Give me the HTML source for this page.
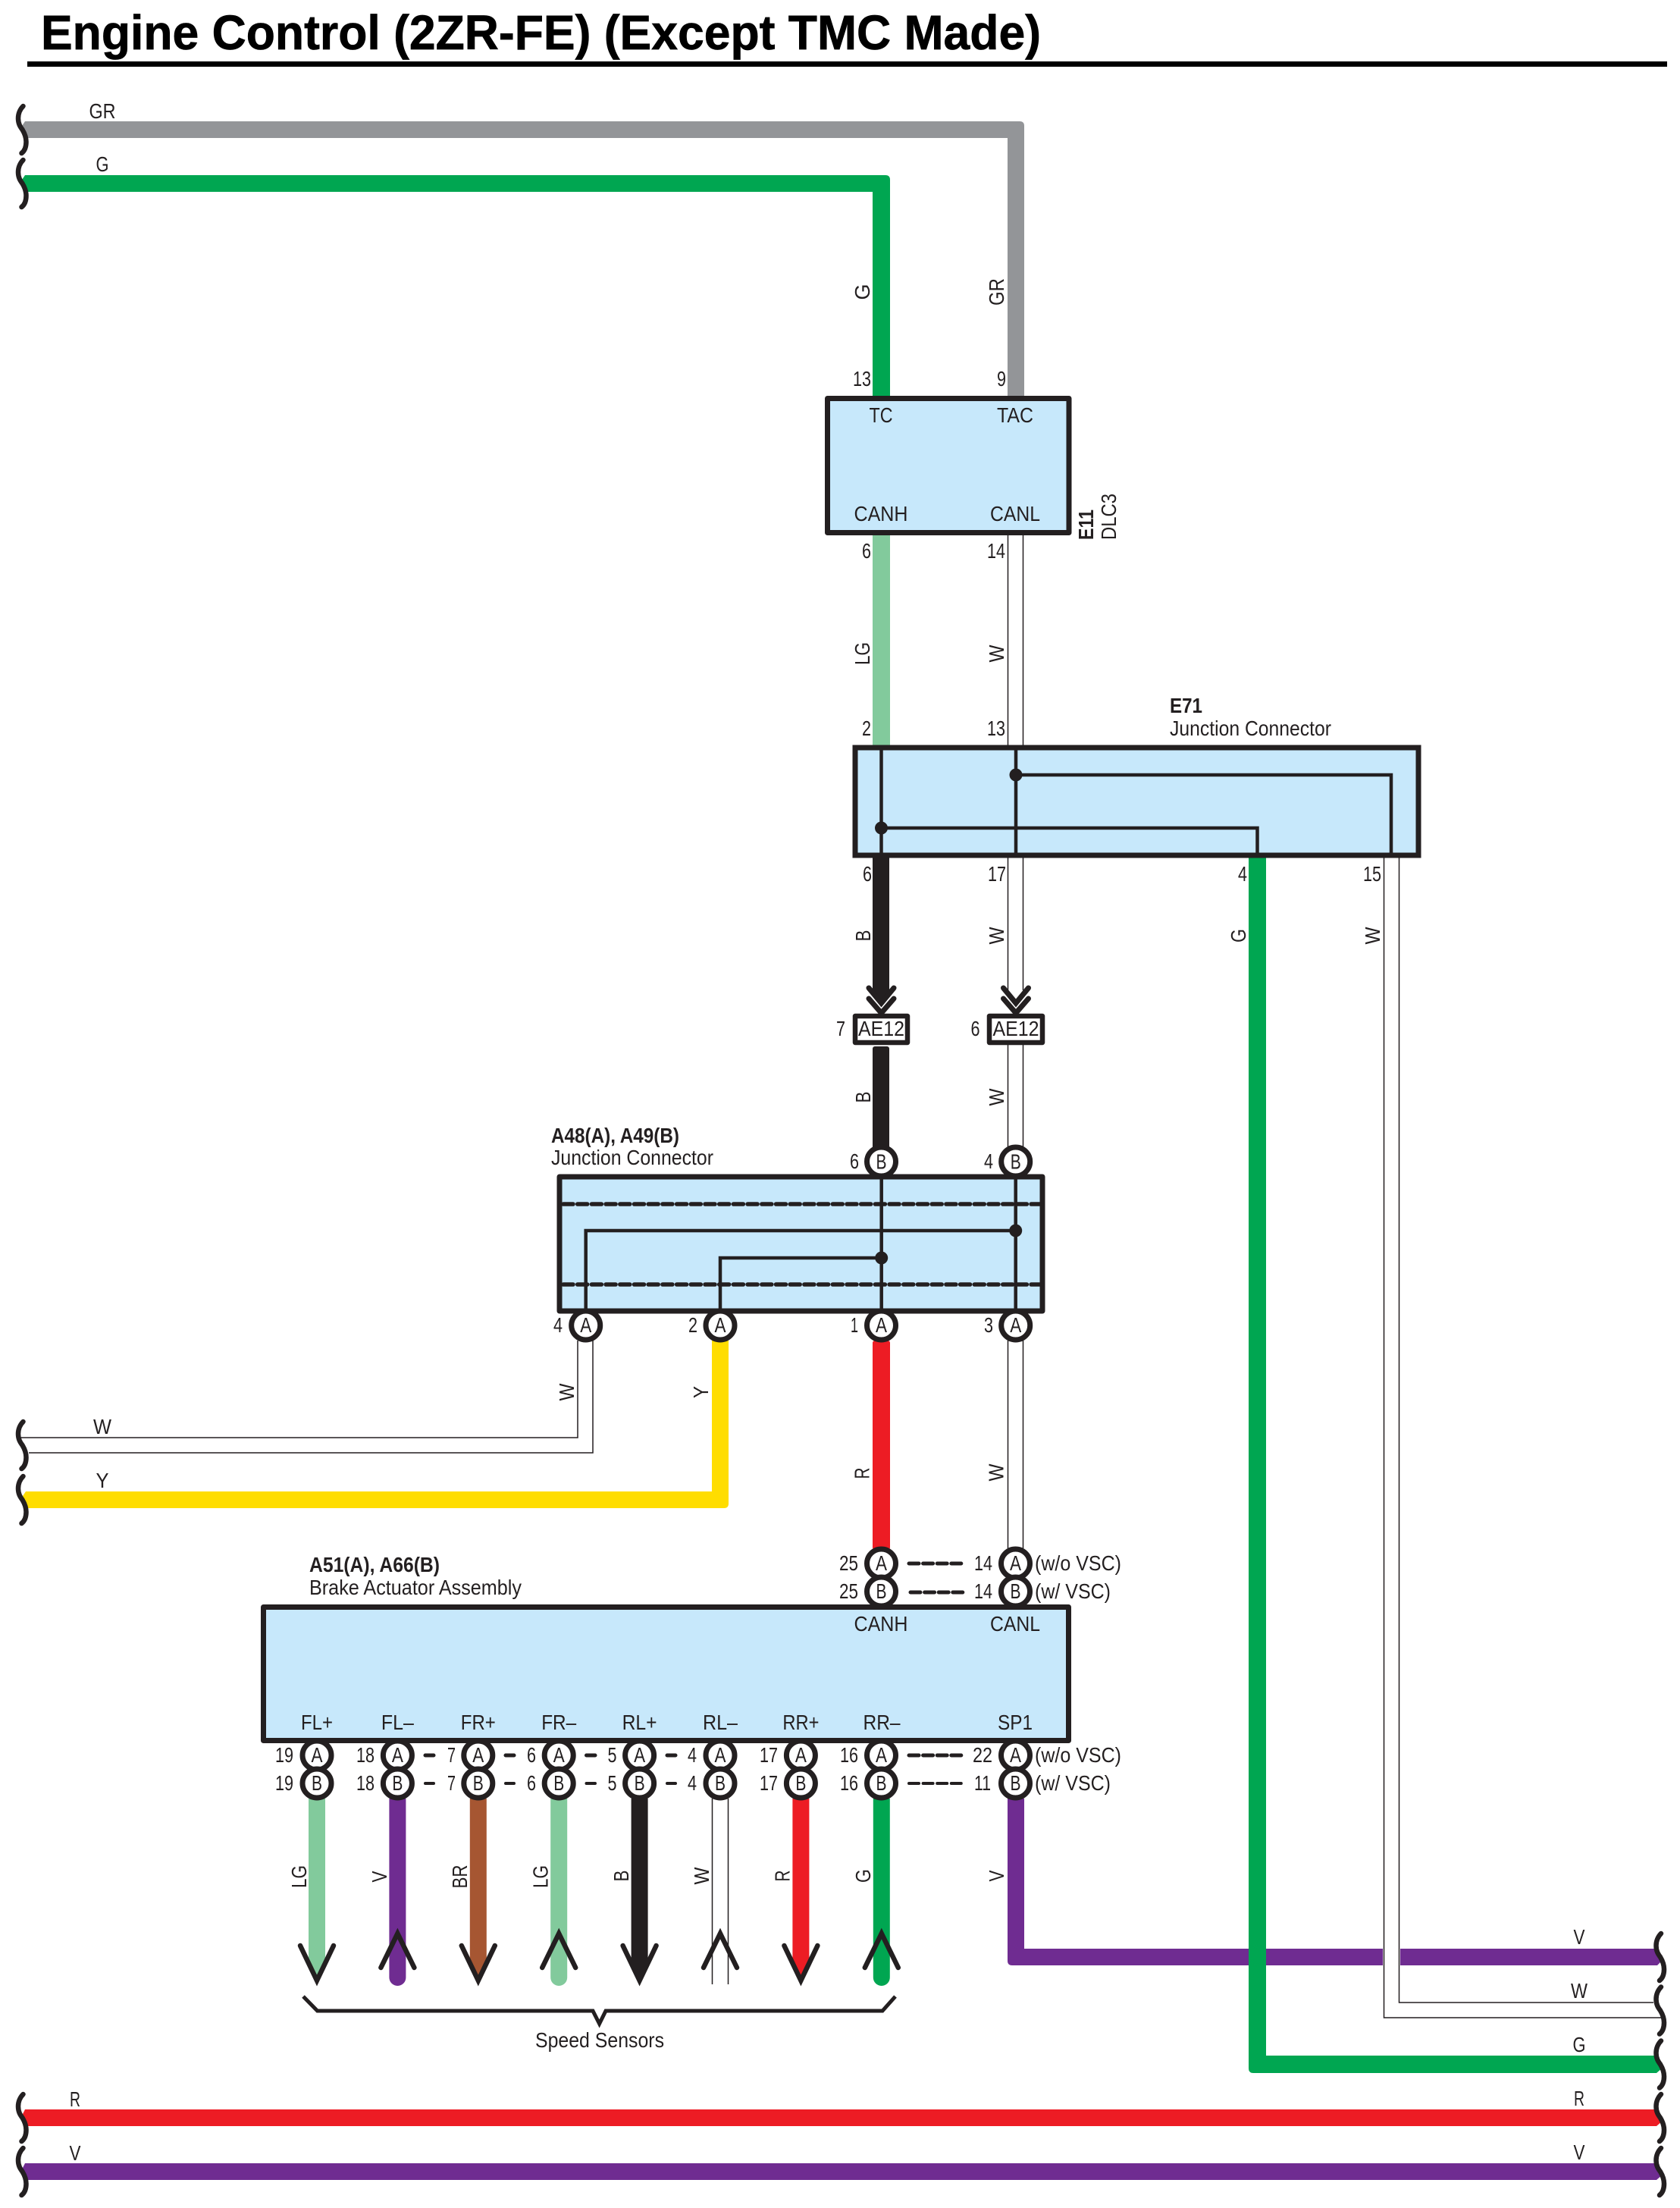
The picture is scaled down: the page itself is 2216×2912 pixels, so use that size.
<!DOCTYPE html>
<html>
<head>
<meta charset="utf-8">
<title>Engine Control (2ZR-FE) (Except TMC Made)</title>
<style>
html,body{margin:0;padding:0;background:#fff;}
svg{display:block;}
text{font-family:"Liberation Sans",Arial,sans-serif;font-size:28px;fill:#231f20;}
.m{text-anchor:middle;}
.e{text-anchor:end;}
.b{font-weight:bold;}
.th{fill:none;stroke:#231f20;stroke-width:1.5;}
.in{fill:none;stroke:#231f20;stroke-width:4.5;}
.box{fill:#c7e8fb;stroke:#231f20;stroke-width:7;stroke-linejoin:round;}
.ae{fill:#fff;stroke:#231f20;stroke-width:6.5;stroke-linejoin:round;}
.pin{fill:#fff;stroke:#231f20;stroke-width:7;}
.wave{fill:none;stroke:#231f20;stroke-width:6.5;stroke-linecap:round;}
.arw{fill:none;stroke:#231f20;stroke-width:6.5;stroke-linecap:round;stroke-linejoin:miter;stroke-miterlimit:10;}
.chev{fill:none;stroke:#231f20;stroke-width:7;stroke-linecap:round;stroke-linejoin:miter;}
.dash{stroke:#231f20;stroke-width:5;stroke-linecap:round;fill:none;}
.dot{fill:#231f20;}
</style>
</head>
<body>
<svg xmlns="http://www.w3.org/2000/svg" width="2216" height="2912" viewBox="0 0 2216 2912">
<defs>
<path id="w" class="wave" d="M1 -31 C-3 -27,-5.5 -21,-5.5 -15 C-5.5 -8,-3 -4,0 0 C3 5,5 10,5 16 C5 23,3 28,-1 31"/>
</defs>
<rect width="2216" height="2912" fill="#fff"/>

<!-- Title -->
<text x="54" y="65" class="b" style="font-size:64px;fill:#000;stroke:#000;stroke-width:.7" textLength="1319" lengthAdjust="spacingAndGlyphs">Engine Control (2ZR-FE) (Except TMC Made)</text>
<rect x="36" y="81" width="2163" height="7" fill="#000"/>

<!-- Top wires -->
<path fill="#939598" d="M33 160 H1345 Q1351 160 1351 166 V522 H1329 V182 H34 L29 166 Z"/>
<path fill="#00a651" d="M33 231 H1168 Q1174 231 1174 237 V522 H1151 V253 H34 L29 237 Z"/>
<!-- E11 to E71 -->
<rect x="1151" y="706" width="23" height="277" fill="#82ca9c"/>
<path class="th" d="M1329.5 706 V983 M1349.5 706 V983"/>
<!-- E71 below -->
<path fill="#231f20" d="M1151 1131 H1173 V1312 L1162 1326 L1151 1312 Z"/>
<path class="th" d="M1329.5 1131 V1306 M1349.5 1131 V1306"/>
<!-- AE12 to A48 -->
<rect x="1151" y="1380" width="22" height="136" fill="#231f20" rx="3"/>
<path class="th" d="M1329.5 1378 V1514 M1349.5 1378 V1514"/>
<!-- A48 below -->
<path class="th" d="M762 1768 V1896 H27 M782 1768 V1916 H38"/>
<path fill="#ffdd00" d="M939 1768 V1967 H34 L30 1973 L35 1989 H955 Q961 1989 961 1983 V1768 Z"/>
<rect x="1151" y="1768" width="23" height="276" fill="#ed1c24" rx="3"/>
<path class="th" d="M1329.5 1768 V2042 M1349.5 1768 V2042"/>
<!-- SP1 V wire -->
<path fill="#6f2c91" d="M1329 2372 V2586 Q1329 2592 1335 2592 H2186 L2192 2586 L2186 2570 H1351 V2372 Z"/>
<rect x="1824" y="2564" width="23" height="34" fill="#fff"/>
<path class="th" d="M1825.5 1131 V2661 H2191 M1845.5 1131 V2641 H2181"/>
<!-- E71 G wire -->
<path fill="#00a651" d="M1647 1131 V2728 Q1647 2734 1653 2734 H2185 L2192 2728 L2186 2711 H1670 V1131 Z"/>
<!-- Bottom power wires -->
<path fill="#ed1c24" d="M33 2782 H2186 L2192 2798 L2185 2804 H35 L30 2788 Z"/>
<path fill="#6f2c91" d="M33 2853 H2186 L2192 2869 L2185 2875 H35 L30 2859 Z"/>

<!-- Sensor wires -->
<path fill="#82ca9c" d="M407 2372 H429 V2592 L418 2616 L407 2592 Z"/>
<path fill="#6f2c91" d="M513.4 2372 H535.4 V2608 A11 11 0 0 1 513.4 2608 Z"/>
<path fill="#a65632" d="M619.8 2372 H641.8 V2592 L630.8 2616 L619.8 2592 Z"/>
<path fill="#82ca9c" d="M726.2 2372 H748.2 V2608 A11 11 0 0 1 726.2 2608 Z"/>
<path fill="#231f20" d="M832.6 2372 H854.6 V2592 L843.6 2616 L832.6 2592 Z"/>
<path class="th" d="M939.5 2372 V2617 M960.5 2372 V2617"/>
<path fill="#ed1c24" d="M1045.4 2372 H1067.4 V2592 L1056.4 2616 L1045.4 2592 Z"/>
<path fill="#00a651" d="M1151.8 2372 H1173.8 V2608 A11 11 0 0 1 1151.8 2608 Z"/>

<!-- Sensor arrowheads -->
<path class="arw" d="M396 2566 L418 2612 L440 2566"/>
<path class="arw" d="M502.4 2595 L524.4 2550 L546.4 2595"/>
<path class="arw" d="M608.8 2566 L630.8 2612 L652.8 2566"/>
<path class="arw" d="M715.2 2595 L737.2 2550 L759.2 2595"/>
<path class="arw" d="M821.6 2566 L843.6 2612 L865.6 2566"/>
<path class="arw" d="M928 2595 L950 2550 L972 2595"/>
<path class="arw" d="M1034.4 2566 L1056.4 2612 L1078.4 2566"/>
<path class="arw" d="M1140.8 2595 L1162.8 2550 L1184.8 2595"/>

<!-- Speed sensor bracket -->
<path fill="none" stroke="#231f20" stroke-width="5" d="M400 2633 L418.6 2652 H782 L790.6 2669 L799 2652 H1164 L1181 2633"/>
<text x="791" y="2700" class="m" textLength="170" lengthAdjust="spacingAndGlyphs">Speed Sensors</text>

<!-- Waves -->
<use href="#w" x="29.5" y="171"/>
<use href="#w" x="29.5" y="242"/>
<use href="#w" x="29.5" y="1906"/>
<use href="#w" x="29.5" y="1978"/>
<use href="#w" x="29.5" y="2793"/>
<use href="#w" x="29.5" y="2864"/>
<use href="#w" x="2190" y="2581"/>
<use href="#w" x="2190" y="2651.5"/>
<use href="#w" x="2190" y="2722.5"/>
<use href="#w" x="2190" y="2793"/>
<use href="#w" x="2190" y="2864"/>

<!-- Chevrons + AE12 -->
<path class="chev" d="M1146 1303 L1162.5 1323 L1179 1303 M1146 1317 L1162.5 1336 L1179 1317"/>
<path class="chev" d="M1323.5 1303 L1340 1323 L1356.5 1303 M1323.5 1317 L1340 1336 L1356.5 1317"/>
<rect class="ae" x="1128" y="1340" width="69" height="35"/>
<rect class="ae" x="1305" y="1340" width="70" height="35"/>
<text x="1162.5" y="1366" class="m" textLength="61" lengthAdjust="spacingAndGlyphs">AE12</text>
<text x="1340" y="1366" class="m" textLength="61" lengthAdjust="spacingAndGlyphs">AE12</text>
<text x="1109" y="1366" class="m" textLength="12" lengthAdjust="spacingAndGlyphs">7</text>
<text x="1286.5" y="1366" class="m" textLength="12" lengthAdjust="spacingAndGlyphs">6</text>

<!-- Pin circles (behind boxes) -->
<circle class="pin" cx="1162.5" cy="1532" r="19"/>
<circle class="pin" cx="1339.7" cy="1532" r="19"/>
<circle class="pin" cx="772.7" cy="1748" r="19"/>
<circle class="pin" cx="950" cy="1748" r="19"/>
<circle class="pin" cx="1162.5" cy="1748" r="19"/>
<circle class="pin" cx="1339.7" cy="1748" r="19"/>
<circle class="pin" cx="1162.5" cy="2062" r="19"/>
<circle class="pin" cx="1339.5" cy="2062" r="19"/>
<circle class="pin" cx="1162.5" cy="2099" r="19"/>
<circle class="pin" cx="1339.5" cy="2099" r="19"/>
<g>
<circle class="pin" cx="418" cy="2315" r="19"/><circle class="pin" cx="418" cy="2352" r="19"/>
<circle class="pin" cx="524.4" cy="2315" r="19"/><circle class="pin" cx="524.4" cy="2352" r="19"/>
<circle class="pin" cx="630.8" cy="2315" r="19"/><circle class="pin" cx="630.8" cy="2352" r="19"/>
<circle class="pin" cx="737.2" cy="2315" r="19"/><circle class="pin" cx="737.2" cy="2352" r="19"/>
<circle class="pin" cx="843.6" cy="2315" r="19"/><circle class="pin" cx="843.6" cy="2352" r="19"/>
<circle class="pin" cx="950" cy="2315" r="19"/><circle class="pin" cx="950" cy="2352" r="19"/>
<circle class="pin" cx="1056.4" cy="2315" r="19"/><circle class="pin" cx="1056.4" cy="2352" r="19"/>
<circle class="pin" cx="1162.5" cy="2315" r="19"/><circle class="pin" cx="1162.5" cy="2352" r="19"/>
<circle class="pin" cx="1339.5" cy="2315" r="19"/><circle class="pin" cx="1339.5" cy="2352" r="19"/>
</g>

<!-- E11 box -->
<rect class="box" x="1091.5" y="525.5" width="318.5" height="177"/>
<text x="1162" y="557" class="m" textLength="31" lengthAdjust="spacingAndGlyphs">TC</text>
<text x="1339" y="557" class="m" textLength="48" lengthAdjust="spacingAndGlyphs">TAC</text>
<text x="1162" y="687" class="m" textLength="71" lengthAdjust="spacingAndGlyphs">CANH</text>
<text x="1339" y="687" class="m" textLength="66" lengthAdjust="spacingAndGlyphs">CANL</text>

<!-- E71 box -->
<rect class="box" x="1128" y="986" width="743" height="142" style="stroke-linejoin:miter"/>
<path class="in" d="M1162.5 986 V1128 M1340 986 V1128 M1340 1022 H1835 V1128 M1162.5 1092 H1658.5 V1128"/>
<circle class="dot" cx="1340" cy="1022" r="8.5"/>
<circle class="dot" cx="1162.5" cy="1092" r="8.5"/>

<!-- A48/A49 box -->
<rect class="box" x="738" y="1552" width="637" height="177"/>
<path fill="none" stroke="#231f20" stroke-width="5.5" stroke-linecap="round" stroke-dasharray="13 5.7" d="M743 1588 H1372 M743 1694 H1372"/>
<path class="in" d="M1162.7 1552 V1729 M1339.7 1552 V1729 M772.7 1729 V1623 H1339.7 M950 1729 V1659 H1162.7"/>
<circle class="dot" cx="1339.7" cy="1623" r="8.5"/>
<circle class="dot" cx="1162.7" cy="1659" r="8.5"/>

<!-- A51/A66 box -->
<rect class="box" x="347.5" y="2119.5" width="1062" height="176"/>
<text x="1162" y="2151" class="m" textLength="71" lengthAdjust="spacingAndGlyphs">CANH</text>
<text x="1339" y="2151" class="m" textLength="66" lengthAdjust="spacingAndGlyphs">CANL</text>
<text x="418" y="2281" class="m" textLength="42" lengthAdjust="spacingAndGlyphs">FL+</text>
<text x="524.4" y="2281" class="m" textLength="43" lengthAdjust="spacingAndGlyphs">FL–</text>
<text x="630.8" y="2281" class="m" textLength="46" lengthAdjust="spacingAndGlyphs">FR+</text>
<text x="737.2" y="2281" class="m" textLength="46" lengthAdjust="spacingAndGlyphs">FR–</text>
<text x="843.6" y="2281" class="m" textLength="46" lengthAdjust="spacingAndGlyphs">RL+</text>
<text x="950" y="2281" class="m" textLength="46" lengthAdjust="spacingAndGlyphs">RL–</text>
<text x="1056.4" y="2281" class="m" textLength="48" lengthAdjust="spacingAndGlyphs">RR+</text>
<text x="1163" y="2281" class="m" textLength="49" lengthAdjust="spacingAndGlyphs">RR–</text>
<text x="1339" y="2281" class="m" textLength="46" lengthAdjust="spacingAndGlyphs">SP1</text>

<!-- Circle letters -->
<g class="cl">
<text x="1162.5" y="1541.5" class="m" textLength="14" lengthAdjust="spacingAndGlyphs">B</text>
<text x="1339.7" y="1541.5" class="m" textLength="14" lengthAdjust="spacingAndGlyphs">B</text>
<text x="772.7" y="1757" class="m" textLength="15" lengthAdjust="spacingAndGlyphs">A</text>
<text x="950" y="1757" class="m" textLength="15" lengthAdjust="spacingAndGlyphs">A</text>
<text x="1162.5" y="1757" class="m" textLength="15" lengthAdjust="spacingAndGlyphs">A</text>
<text x="1339.7" y="1757" class="m" textLength="15" lengthAdjust="spacingAndGlyphs">A</text>
<text x="1162.5" y="2071" class="m" textLength="15" lengthAdjust="spacingAndGlyphs">A</text>
<text x="1339.5" y="2071" class="m" textLength="15" lengthAdjust="spacingAndGlyphs">A</text>
<text x="1162.5" y="2108" class="m" textLength="14" lengthAdjust="spacingAndGlyphs">B</text>
<text x="1339.5" y="2108" class="m" textLength="14" lengthAdjust="spacingAndGlyphs">B</text>
<text x="418" y="2324" class="m" textLength="15" lengthAdjust="spacingAndGlyphs">A</text><text x="418" y="2361" class="m" textLength="14" lengthAdjust="spacingAndGlyphs">B</text>
<text x="524.4" y="2324" class="m" textLength="15" lengthAdjust="spacingAndGlyphs">A</text><text x="524.4" y="2361" class="m" textLength="14" lengthAdjust="spacingAndGlyphs">B</text>
<text x="630.8" y="2324" class="m" textLength="15" lengthAdjust="spacingAndGlyphs">A</text><text x="630.8" y="2361" class="m" textLength="14" lengthAdjust="spacingAndGlyphs">B</text>
<text x="737.2" y="2324" class="m" textLength="15" lengthAdjust="spacingAndGlyphs">A</text><text x="737.2" y="2361" class="m" textLength="14" lengthAdjust="spacingAndGlyphs">B</text>
<text x="843.6" y="2324" class="m" textLength="15" lengthAdjust="spacingAndGlyphs">A</text><text x="843.6" y="2361" class="m" textLength="14" lengthAdjust="spacingAndGlyphs">B</text>
<text x="950" y="2324" class="m" textLength="15" lengthAdjust="spacingAndGlyphs">A</text><text x="950" y="2361" class="m" textLength="14" lengthAdjust="spacingAndGlyphs">B</text>
<text x="1056.4" y="2324" class="m" textLength="15" lengthAdjust="spacingAndGlyphs">A</text><text x="1056.4" y="2361" class="m" textLength="14" lengthAdjust="spacingAndGlyphs">B</text>
<text x="1162.5" y="2324" class="m" textLength="15" lengthAdjust="spacingAndGlyphs">A</text><text x="1162.5" y="2361" class="m" textLength="14" lengthAdjust="spacingAndGlyphs">B</text>
<text x="1339.5" y="2324" class="m" textLength="15" lengthAdjust="spacingAndGlyphs">A</text><text x="1339.5" y="2361" class="m" textLength="14" lengthAdjust="spacingAndGlyphs">B</text>
</g>

<!-- Dashes -->
<path class="dash" stroke-dasharray="13 5.6" d="M1199 2062 H1268 M1201 2100 H1270 M1199 2315 H1268"/>
<path class="dash" style="stroke-width:4" stroke-dasharray="13 5.6" d="M1199 2352 H1268"/>
<path class="dash" d="M561 2315 H572 M667 2315 H678 M773.5 2315 H785 M880 2315 H891"/>
<path class="dash" style="stroke-width:4" d="M561 2352 H572 M667 2352 H678 M773.5 2352 H785 M880 2352 H891"/>

<!-- Pin numbers -->
<text x="1149" y="509" class="e" textLength="24" lengthAdjust="spacingAndGlyphs">13</text>
<text x="1327" y="509" class="e" textLength="12" lengthAdjust="spacingAndGlyphs">9</text>
<text x="1149" y="736" class="e" textLength="12" lengthAdjust="spacingAndGlyphs">6</text>
<text x="1326" y="736" class="e" textLength="24" lengthAdjust="spacingAndGlyphs">14</text>
<text x="1149" y="970" class="e" textLength="12" lengthAdjust="spacingAndGlyphs">2</text>
<text x="1326" y="970" class="e" textLength="24" lengthAdjust="spacingAndGlyphs">13</text>
<text x="1150" y="1162" class="e" textLength="12" lengthAdjust="spacingAndGlyphs">6</text>
<text x="1327" y="1162" class="e" textLength="24" lengthAdjust="spacingAndGlyphs">17</text>
<text x="1645" y="1162" class="e" textLength="12" lengthAdjust="spacingAndGlyphs">4</text>
<text x="1822" y="1162" class="e" textLength="24" lengthAdjust="spacingAndGlyphs">15</text>
<text x="1133" y="1541" class="e" textLength="12" lengthAdjust="spacingAndGlyphs">6</text>
<text x="1310" y="1541" class="e" textLength="12" lengthAdjust="spacingAndGlyphs">4</text>
<text x="742" y="1757" class="e" textLength="12" lengthAdjust="spacingAndGlyphs">4</text>
<text x="920" y="1757" class="e" textLength="12" lengthAdjust="spacingAndGlyphs">2</text>
<text x="1132" y="1757" class="e" textLength="10" lengthAdjust="spacingAndGlyphs">1</text>
<text x="1310" y="1757" class="e" textLength="12" lengthAdjust="spacingAndGlyphs">3</text>
<text x="1132" y="2071" class="e" textLength="25" lengthAdjust="spacingAndGlyphs">25</text>
<text x="1132" y="2108" class="e" textLength="25" lengthAdjust="spacingAndGlyphs">25</text>
<text x="1309" y="2071" class="e" textLength="24" lengthAdjust="spacingAndGlyphs">14</text>
<text x="1309" y="2108" class="e" textLength="24" lengthAdjust="spacingAndGlyphs">14</text>
<text x="1365" y="2071" textLength="114" lengthAdjust="spacingAndGlyphs">(w/o VSC)</text>
<text x="1365" y="2108" textLength="100" lengthAdjust="spacingAndGlyphs">(w/ VSC)</text>
<text x="1365" y="2324" textLength="114" lengthAdjust="spacingAndGlyphs">(w/o VSC)</text>
<text x="1365" y="2361" textLength="100" lengthAdjust="spacingAndGlyphs">(w/ VSC)</text>

<text x="387" y="2324" class="e" textLength="24" lengthAdjust="spacingAndGlyphs">19</text>
<text x="387" y="2361" class="e" textLength="24" lengthAdjust="spacingAndGlyphs">19</text>
<text x="494" y="2324" class="e" textLength="24" lengthAdjust="spacingAndGlyphs">18</text>
<text x="494" y="2361" class="e" textLength="24" lengthAdjust="spacingAndGlyphs">18</text>
<text x="601" y="2324" class="e" textLength="11" lengthAdjust="spacingAndGlyphs">7</text>
<text x="601" y="2361" class="e" textLength="11" lengthAdjust="spacingAndGlyphs">7</text>
<text x="707" y="2324" class="e" textLength="12" lengthAdjust="spacingAndGlyphs">6</text>
<text x="707" y="2361" class="e" textLength="12" lengthAdjust="spacingAndGlyphs">6</text>
<text x="813.5" y="2324" class="e" textLength="12" lengthAdjust="spacingAndGlyphs">5</text>
<text x="813.5" y="2361" class="e" textLength="12" lengthAdjust="spacingAndGlyphs">5</text>
<text x="919" y="2324" class="e" textLength="12" lengthAdjust="spacingAndGlyphs">4</text>
<text x="919" y="2361" class="e" textLength="12" lengthAdjust="spacingAndGlyphs">4</text>
<text x="1026" y="2324" class="e" textLength="24" lengthAdjust="spacingAndGlyphs">17</text>
<text x="1026" y="2361" class="e" textLength="24" lengthAdjust="spacingAndGlyphs">17</text>
<text x="1132" y="2324" class="e" textLength="24" lengthAdjust="spacingAndGlyphs">16</text>
<text x="1132" y="2361" class="e" textLength="24" lengthAdjust="spacingAndGlyphs">16</text>
<text x="1309" y="2324" class="e" textLength="26" lengthAdjust="spacingAndGlyphs">22</text>
<text x="1307" y="2361" class="e" textLength="22" lengthAdjust="spacingAndGlyphs">11</text>

<!-- Titles -->
<text x="1543" y="940" class="b" textLength="43" lengthAdjust="spacingAndGlyphs">E71</text>
<text x="1543" y="970" textLength="213" lengthAdjust="spacingAndGlyphs">Junction Connector</text>
<text x="727" y="1507" class="b" textLength="169" lengthAdjust="spacingAndGlyphs">A48(A), A49(B)</text>
<text x="727" y="1536" textLength="214" lengthAdjust="spacingAndGlyphs">Junction Connector</text>
<text x="408" y="2073" class="b" textLength="172" lengthAdjust="spacingAndGlyphs">A51(A), A66(B)</text>
<text x="408" y="2103" textLength="280" lengthAdjust="spacingAndGlyphs">Brake Actuator Assembly</text>
<text transform="translate(1442,712) rotate(-90)" class="b" textLength="40" lengthAdjust="spacingAndGlyphs">E11</text>
<text transform="translate(1472,712) rotate(-90)" textLength="61" lengthAdjust="spacingAndGlyphs">DLC3</text>

<!-- Horizontal wire labels -->
<text x="135" y="156" class="m" textLength="35" lengthAdjust="spacingAndGlyphs">GR</text>
<text x="135" y="226" class="m" textLength="17" lengthAdjust="spacingAndGlyphs">G</text>
<text x="135" y="1891" class="m" textLength="24" lengthAdjust="spacingAndGlyphs">W</text>
<text x="135" y="1962" class="m" textLength="17" lengthAdjust="spacingAndGlyphs">Y</text>
<text x="99" y="2778" class="m" textLength="14" lengthAdjust="spacingAndGlyphs">R</text>
<text x="99" y="2849" class="m" textLength="15" lengthAdjust="spacingAndGlyphs">V</text>
<text x="2083" y="2564" class="m" textLength="15" lengthAdjust="spacingAndGlyphs">V</text>
<text x="2083" y="2635" class="m" textLength="22" lengthAdjust="spacingAndGlyphs">W</text>
<text x="2083" y="2706" class="m" textLength="17" lengthAdjust="spacingAndGlyphs">G</text>
<text x="2083" y="2777" class="m" textLength="14" lengthAdjust="spacingAndGlyphs">R</text>
<text x="2083" y="2848" class="m" textLength="15" lengthAdjust="spacingAndGlyphs">V</text>

<!-- Rotated wire labels -->
<text transform="translate(1147,385) rotate(-90)" class="m" textLength="21" lengthAdjust="spacingAndGlyphs">G</text>
<text transform="translate(1324,385) rotate(-90)" class="m" textLength="36" lengthAdjust="spacingAndGlyphs">GR</text>
<text transform="translate(1147,862) rotate(-90)" class="m" textLength="30" lengthAdjust="spacingAndGlyphs">LG</text>
<text transform="translate(1324,862) rotate(-90)" class="m" textLength="23" lengthAdjust="spacingAndGlyphs">W</text>
<text transform="translate(1148,1234) rotate(-90)" class="m" textLength="15" lengthAdjust="spacingAndGlyphs">B</text>
<text transform="translate(1324,1234) rotate(-90)" class="m" textLength="23" lengthAdjust="spacingAndGlyphs">W</text>
<text transform="translate(1643,1234) rotate(-90)" class="m" textLength="18" lengthAdjust="spacingAndGlyphs">G</text>
<text transform="translate(1820,1234) rotate(-90)" class="m" textLength="23" lengthAdjust="spacingAndGlyphs">W</text>
<text transform="translate(1148,1447) rotate(-90)" class="m" textLength="15" lengthAdjust="spacingAndGlyphs">B</text>
<text transform="translate(1324,1447) rotate(-90)" class="m" textLength="23" lengthAdjust="spacingAndGlyphs">W</text>
<text transform="translate(757,1836) rotate(-90)" class="m" textLength="23" lengthAdjust="spacingAndGlyphs">W</text>
<text transform="translate(934,1836) rotate(-90)" class="m" textLength="16" lengthAdjust="spacingAndGlyphs">Y</text>
<text transform="translate(1146.5,1943) rotate(-90)" class="m" textLength="15" lengthAdjust="spacingAndGlyphs">R</text>
<text transform="translate(1323.6,1942) rotate(-90)" class="m" textLength="23" lengthAdjust="spacingAndGlyphs">W</text>
<text transform="translate(404,2475) rotate(-90)" class="m" textLength="30" lengthAdjust="spacingAndGlyphs">LG</text>
<text transform="translate(510,2475) rotate(-90)" class="m" textLength="15" lengthAdjust="spacingAndGlyphs">V</text>
<text transform="translate(616,2475) rotate(-90)" class="m" textLength="31" lengthAdjust="spacingAndGlyphs">BR</text>
<text transform="translate(722.6,2475) rotate(-90)" class="m" textLength="30" lengthAdjust="spacingAndGlyphs">LG</text>
<text transform="translate(829,2474) rotate(-90)" class="m" textLength="15" lengthAdjust="spacingAndGlyphs">B</text>
<text transform="translate(935,2474) rotate(-90)" class="m" textLength="23" lengthAdjust="spacingAndGlyphs">W</text>
<text transform="translate(1041.5,2474) rotate(-90)" class="m" textLength="15" lengthAdjust="spacingAndGlyphs">R</text>
<text transform="translate(1148,2474) rotate(-90)" class="m" textLength="18" lengthAdjust="spacingAndGlyphs">G</text>
<text transform="translate(1324,2474) rotate(-90)" class="m" textLength="15" lengthAdjust="spacingAndGlyphs">V</text>
</svg>
</body>
</html>
